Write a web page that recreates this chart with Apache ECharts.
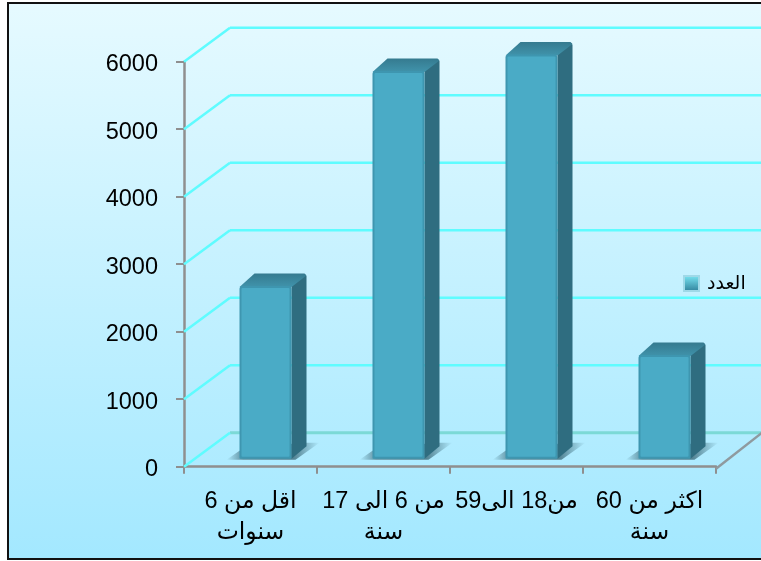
<!DOCTYPE html>
<html><head><meta charset="utf-8">
<style>html,body{margin:0;padding:0;background:#fff}#c{width:761px;height:561px}</style>
<script src="https://cdn.jsdelivr.net/npm/echarts@6/dist/echarts.min.js"></script>
</head><body><div id="c"></div>
<script>
const categories = ['اقل من 6\nسنوات', 'من 6 الى 17\nسنة', 'من18 الى59', 'اكثر من 60\nسنة'];
const seriesName = 'العدد';
const counts = [2560, 5745, 5990, 1535];
const gridValues = [0, 1000, 2000, 3000, 4000, 5000, 6000];

const FONT = '"Liberation Sans", Arial, "DejaVu Sans", sans-serif';
const DEPTH_X = 46, DEPTH_Y = -34;
const LEFT = 184, RIGHT = 716, TOP = 61.7, BOTTOM = 466.7;
const chart = echarts.init(document.getElementById('c'), null, {renderer: 'canvas'});
const lin = (x0, y0, x1, y1, a, b) => new echarts.graphic.LinearGradient(x0, y0, x1, y1, [{offset: 0, color: a}, {offset: 1, color: b}]);

function renderGrid(params, api) {
  const v = api.value(0);
  const band = api.size([1, 0])[0];
  const p = api.coord([0, v]);
  const x0 = p[0] - band / 2, y0 = p[1];
  const xb = x0 + DEPTH_X, yb = y0 + DEPTH_Y;
  const xe = x0 + band * 4;
  const children = [
    {type: 'polyline', shape: {points: [[xb, yb], [xe + DEPTH_X, yb]]},
     style: {stroke: v === 0 ? '#7cd9d6' : '#5ffcff', lineWidth: v === 0 ? 3 : 2.5, fill: null}},
    {type: 'polyline', shape: {points: [[x0, y0], [xb, yb]]},
     style: {stroke: '#5ffcff', lineWidth: 2.5, fill: null}}
  ];
  if (v === 0) children.push({type: 'polyline', shape: {points: [[xe, y0 + 2], [xe + DEPTH_X, yb]]},
     style: {stroke: '#8f9a9f', lineWidth: 2.5, fill: null}});
  return {type: 'group', children};
}

const shadowFill = new echarts.graphic.LinearGradient(0, 0, 1, 0, [
  {offset: 0, color: 'rgba(60,105,120,0)'},
  {offset: 0.18, color: 'rgba(60,105,120,0.7)'},
  {offset: 0.72, color: 'rgba(60,105,120,0.8)'},
  {offset: 1, color: 'rgba(60,105,120,0)'}
]);

function renderBar(params, api) {
  const i = api.value(0), v = api.value(1);
  const c = api.coord([i, v]), b = api.coord([i, 0]);
  const w = 52, sx = 15, sy = -12.5, shiftX = 15, shiftY = -8;
  const l = c[0] - w / 2 + shiftX, r = l + w;
  const t = c[1] + shiftY, bot = b[1] + shiftY;
  return {type: 'group', children: [
    {type: 'polygon', shape: {points: [[l - 13, bot + 1], [r + 4, bot + 1], [r + 28, bot - 16], [r + 8, bot - 16], [l, bot - 8]]},
     style: {fill: shadowFill}},
    {type: 'polygon', shape: {points: [[r, t], [r + sx - 1, t + sy + 1], [r + sx, t + sy + 3], [r + sx, bot + sy], [r, bot]]},
     style: {fill: '#2f6d80'}},
    {type: 'polygon', shape: {points: [[l, t + 1], [l + sx, t + sy], [r + sx - 2, t + sy], [r + sx, t + sy + 2], [r, t + 1]]},
     style: {fill: lin(0, 0, 0, 1, '#357a8f', '#4093ab')}},
    {type: 'rect', shape: {x: l, y: t, width: w, height: bot - t, r: [3, 3, 1, 1]},
     style: {fill: '#3e96b0'}},
    {type: 'rect', shape: {x: l + 2, y: t + 2, width: w - 4, height: bot - t - 4, r: 1},
     style: {fill: '#4aabc6'}}
  ]};
}

chart.setOption({
  animation: false,
  backgroundColor: '#ffffff',
  textStyle: {fontFamily: FONT},
  graphic: [{
    type: 'rect', z: -10, silent: true,
    shape: {x: 8, y: 3, width: 760, height: 556},
    style: {fill: lin(0, 0, 0, 1, '#e6faff', '#a3e8ff'), stroke: '#111111', lineWidth: 2}
  }],
  grid: {left: LEFT, width: RIGHT - LEFT, top: TOP, height: BOTTOM - TOP, containLabel: false},
  legend: {
    data: [seriesName], left: 678, top: 269, itemWidth: 15, itemHeight: 15, icon: 'rect', itemGap: 5,
    textStyle: {fontSize: 19, color: '#000', fontFamily: FONT, padding: [0, 0, 0, 3]},
    selectedMode: false
  },
  xAxis: {
    type: 'category', data: categories, offset: 2,
    axisLine: {lineStyle: {color: '#8f8f8f', width: 2.5}},
    axisTick: {show: true, length: 7, alignWithLabel: false, lineStyle: {color: '#8f8f8f', width: 2}},
    axisLabel: {fontSize: 23.5, color: '#000', lineHeight: 31, margin: 17, interval: 0, fontFamily: FONT}
  },
  yAxis: {
    type: 'value', min: 0, max: 6000, interval: 1000,
    splitLine: {show: false},
    axisLine: {show: true, lineStyle: {color: '#8f8f8f', width: 2.5}},
    axisTick: {show: true, length: 8, lineStyle: {color: '#8f8f8f', width: 2}},
    axisLabel: {color: '#000', margin: 26, fontFamily: FONT,
      formatter: v => '{a|' + v + '}',
      rich: {a: {fontSize: 23.5, color: '#000', fontFamily: FONT, padding: [6, 0, 0, 0]}}}
  },
  series: [
    {type: 'custom', name: 'walls', z: 1, silent: true, clip: false,
     renderItem: renderGrid, data: gridValues.map(v => [v]), encode: {y: 0}},
    {type: 'custom', name: seriesName, z: 3, clip: false, renderItem: renderBar,
     itemStyle: {color: lin(0.5, 0, 0.5, 1, '#7be8f5', '#2f7f99'), borderColor: '#9fd9e8', borderWidth: 1},
     data: counts.map((v, i) => [i, v]), encode: {x: 0, y: 1}}
  ]
});
</script></body></html>
